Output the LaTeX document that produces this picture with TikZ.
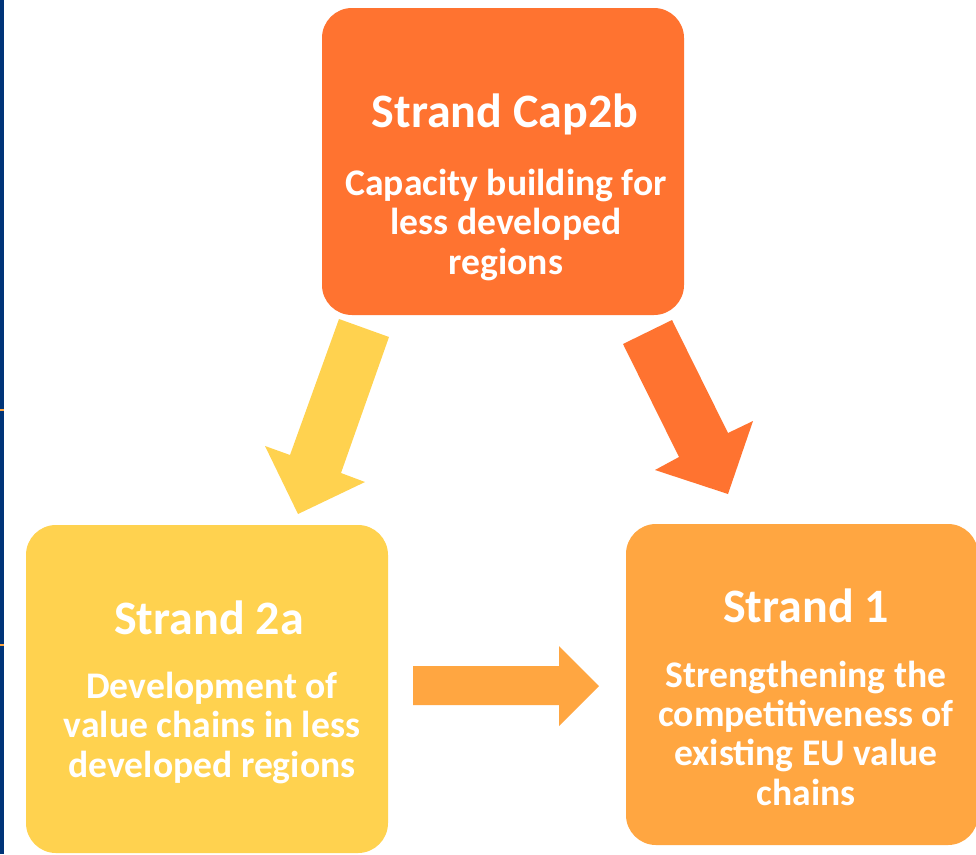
\documentclass[tikz,border=0pt]{standalone}
\usepackage{fontspec}
\setmainfont{Carlito}
\definecolor{cTop}{HTML}{FF7330}
\definecolor{cYel}{HTML}{FFD24F}
\definecolor{cOra}{HTML}{FFA641}
\definecolor{cBlue}{HTML}{003478}
\tikzset{
  box/.style={rounded corners=30pt, inner sep=0pt},
  ttl/.style={anchor=base, text=white, font=\fontsize{48}{52}\selectfont\bfseries},
  body/.style={anchor=base, text=white, align=center, font=\fontsize{37.6}{39.3}\selectfont\bfseries},
}
\begin{document}
\begin{tikzpicture}[x=1pt,y=-1pt]
\useasboundingbox (0,0) rectangle (976,854);
\fill[white] (0,0) rectangle (976,854);
% left blue bar
\fill[cBlue] (0,0) rectangle (4,854);
\fill[cOra] (0,409) rectangle (4,411);
\fill[cOra] (0,644) rectangle (4,646);
% boxes
\begin{scope}
\clip (0,0) rectangle (976,854);
\fill[cTop, box] (322,8) rectangle (684,315);
\fill[cYel, box] (26,525) rectangle (388,853);
\fill[cOra, box] (626,524) rectangle (978,845);
\end{scope}
% arrows
\fill[cYel] (339,319) -- (389,337) -- (341,473) -- (365,482) -- (298,514) -- (265,446) -- (290,455) -- cycle;
\fill[cTop] (623,344) -- (672,320) -- (728,433) -- (753,421) -- (728,494) -- (655,470) -- (679,457) -- cycle;
\fill[cOra] (413,666) -- (559,666) -- (559,646) -- (599,686) -- (559,726) -- (559,705) -- (413,705) -- cycle;
% texts (body anchored at last line's baseline)
\node[ttl] (t1) at (505,127) {Strand Cap2b};
\node[body] (b1) at (506,274) {Capacity building for\\less developed\\regions};
\node[ttl] (t2) at (209,634) {Strand 2a};
\node[body] (b2) at (212,777) {Development of\\value chains in less\\developed regions};
\node[ttl] (t3) at (806,622) {Strand 1};
\node[body] (b3) at (806,805) {Strengthening the\\competitiveness of\\existing EU value\\chains};
\end{tikzpicture}
\end{document}
